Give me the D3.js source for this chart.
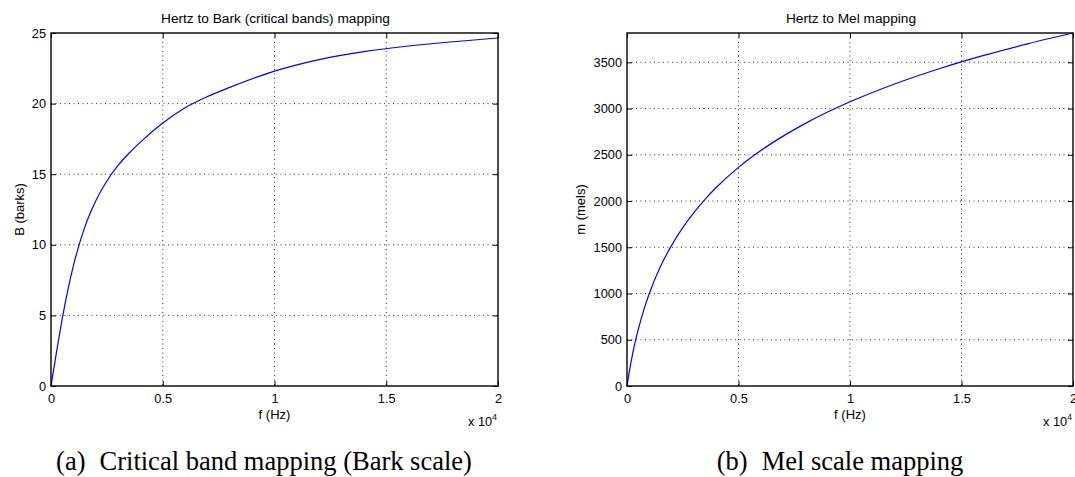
<!DOCTYPE html>
<html>
<head>
<meta charset="utf-8">
<script src="https://cdn.jsdelivr.net/npm/d3@7"></script>
<style>
  body { margin: 0; background: #fff; }
  svg { display: block; }
  .tick text { font-family: "Liberation Sans", Arial, sans-serif; font-size: 12.8px; fill: #000; }
</style>
</head>
<body>
<div class="charts"></div>
<script>
const freqHz = [0, 125, 250, 375, 500, 750, 1000, 1500, 2000, 2500, 3000, 3500, 4000, 5000, 6000, 7000, 8000, 10000, 12000, 14000, 16000, 18000, 20000];
const barkValues = [0, 1.23, 2.44, 3.61, 4.74, 6.77, 8.51, 11.2, 13.1, 14.52, 15.62, 16.5, 17.27, 18.62, 19.7, 20.5, 21.15, 22.3, 23.12, 23.68, 24.08, 24.38, 24.65];
const melValues = [0, 185, 344, 484, 607, 821, 1000, 1291, 1521, 1713, 1876, 2019, 2146, 2364, 2546, 2702, 2840, 3073, 3266, 3431, 3575, 3702, 3817];

const xTicks = [0, 5000, 10000, 15000, 20000];
const barkTicks = [0, 5, 10, 15, 20, 25];
const melTicks = [0, 500, 1000, 1500, 2000, 2500, 3000, 3500];

const width = 1075;
const height = 477;

const svg = d3.select(".charts").append("svg")
  .attr("width", width)
  .attr("height", height);

function drawPanel(opts) {
  const left = opts.left, right = opts.right, top = 33, bottom = 386;

  const xScale = d3.scaleLinear()
    .domain([0, 20000])
    .range([left, right]);

  const yScale = d3.scaleLinear()
    .domain([0, opts.yMax])
    .range([bottom, top]);

  const g = svg.append("g");

  // dotted grid
  g.selectAll(".vgrid")
    .data(xTicks.filter(t => t > 0 && t < 20000))
    .enter()
    .append("line")
      .attr("x1", d => xScale(d))
      .attr("x2", d => xScale(d))
      .attr("y1", top)
      .attr("y2", bottom)
      .attr("stroke", "#333")
      .attr("stroke-width", 1)
      .attr("stroke-dasharray", "1,3.5");

  g.selectAll(".hgrid")
    .data(opts.yTicks.filter(t => t > 0 && yScale(t) > top + 1))
    .enter()
    .append("line")
      .attr("x1", left)
      .attr("x2", right)
      .attr("y1", d => yScale(d))
      .attr("y2", d => yScale(d))
      .attr("stroke", "#333")
      .attr("stroke-width", 1)
      .attr("stroke-dasharray", "1,3.5");

  // curve
  const line = d3.line()
    .x((d, i) => xScale(freqHz[i]))
    .y(d => yScale(d))
    .curve(d3.curveMonotoneX);

  g.append("path")
    .attr("fill", "none")
    .attr("stroke", "#0000ff")
    .attr("stroke-width", 1.2)
    .attr("d", line(opts.values));

  // axes with inward ticks
  const xAxis = d3.axisBottom(xScale)
    .tickValues(xTicks)
    .tickSize(-5)
    .tickPadding(8)
    .tickFormat(d => d3.format("")(d / 10000));

  const yAxis = d3.axisLeft(yScale)
    .tickValues(opts.yTicks)
    .tickSize(-5)
    .tickPadding(5)
    .tickFormat(d3.format(""));

  g.append("g")
    .attr("transform", `translate(0, ${bottom})`)
    .call(xAxis)
    .call(a => a.select(".domain").remove());

  g.append("g")
    .attr("transform", `translate(0, ${top})`)
    .call(d3.axisTop(xScale).tickValues(xTicks).tickSize(-5).tickFormat(""))
    .call(a => a.select(".domain").remove());

  g.append("g")
    .attr("transform", `translate(${left}, 0)`)
    .call(yAxis)
    .call(a => a.select(".domain").remove());

  g.append("g")
    .attr("transform", `translate(${right}, 0)`)
    .call(d3.axisRight(yScale).tickValues(opts.yTicks).tickSize(-5).tickFormat(""))
    .call(a => a.select(".domain").remove());

  g.selectAll(".tick line").attr("stroke", "#000");

  // frame
  g.append("rect")
    .attr("x", left)
    .attr("y", top)
    .attr("width", right - left)
    .attr("height", bottom - top)
    .attr("fill", "none")
    .attr("stroke", "#000")
    .attr("stroke-width", 1.4);

  const font = "Liberation Sans, Arial, sans-serif";

  g.append("text")
    .attr("x", (left + right) / 2 + 1)
    .attr("y", 23)
    .attr("text-anchor", "middle")
    .style("font-family", font)
    .style("font-size", "13.7px")
    .text(opts.title);

  g.append("text")
    .attr("x", (left + right) / 2)
    .attr("y", 419)
    .attr("text-anchor", "middle")
    .style("font-family", font)
    .style("font-size", "13px")
    .text("f (Hz)");

  g.append("text")
    .attr("transform", `translate(${opts.yLabelX}, ${(top + bottom) / 2}) rotate(-90)`)
    .attr("text-anchor", "middle")
    .style("font-family", font)
    .style("font-size", "13px")
    .text(opts.yLabel);

  const mult = g.append("text")
    .attr("x", right - 30)
    .attr("y", 426)
    .style("font-family", font)
    .style("font-size", "12.8px");
  mult.append("tspan").text("x 10");
  mult.append("tspan").attr("dy", -6).style("font-size", "8.5px").text("4");

  const cap = g.append("text")
    .attr("x", opts.captionX)
    .attr("y", 470)
    .attr("text-anchor", "middle")
    .style("font-family", "Liberation Serif, Times New Roman, serif")
    .style("font-size", "26.5px");
  cap.append("tspan").text(opts.captionTag);
  cap.append("tspan").attr("dx", 14).text(opts.caption);
}

drawPanel({
  left: 51, right: 498, yMax: 25, yTicks: barkTicks, values: barkValues,
  title: "Hertz to Bark (critical bands) mapping", yLabel: "B (barks)", yLabelX: 24,
  captionX: 264, captionTag: "(a)", caption: "Critical band mapping (Bark scale)"
});

drawPanel({
  left: 627, right: 1073, yMax: 3817, yTicks: melTicks, values: melValues,
  title: "Hertz to Mel mapping", yLabel: "m (mels)", yLabelX: 585,
  captionX: 840, captionTag: "(b)", caption: "Mel scale mapping"
});
</script>
</body>
</html>
